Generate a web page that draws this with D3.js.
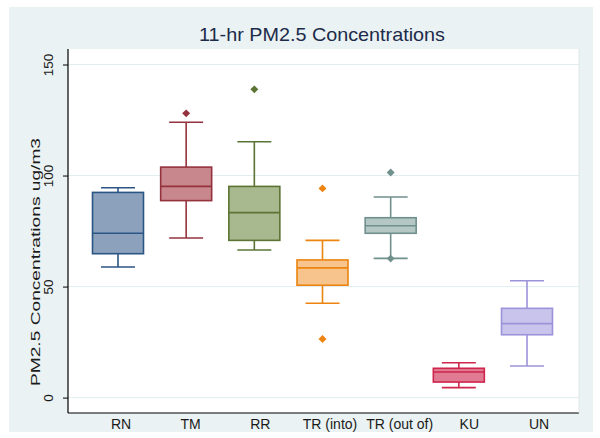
<!DOCTYPE html>
<html>
<head>
<meta charset="utf-8">
<script src="https://cdn.jsdelivr.net/npm/d3@7"></script>
<style>
  html, body { margin: 0; padding: 0; background: #ffffff; }
  svg { display: block; font-family: "Liberation Sans", Arial, sans-serif; }
</style>
</head>
<body>
<svg id="chart" width="600" height="438"></svg>
<script>
// ---- data ----
const categories = ["RN", "TM", "RR", "TR (into)", "TR (out of)", "KU", "UN"];
const whiskerLow  = [58.8, 71.9, 66.5, 42.5, 62.7, 4.5, 14.2];
const q1          = [64.8, 88.7, 70.8, 50.6, 74.0, 7.0, 28.3];
const median      = [74.0, 95.1, 83.3, 58.4, 77.4, 11.5, 33.3];
const q3          = [92.4, 103.8, 95.1, 62.0, 81.0, 13.2, 40.2];
const whiskerHigh = [94.5, 124.0, 115.2, 70.8, 90.3, 15.7, 52.6];
const outliers    = [[], [128.0], [138.8], [94.2, 26.4], [101.4, 62.6], [], []];
const yTicks      = [0, 50, 100, 150];
const fills   = ["#8ca2bc", "#c8868d", "#a9b98f", "#f6c48c", "#b5c7c5", "#e07b93", "#c8c4ec"];
const strokes = ["#2b5584", "#94333e", "#5b7433", "#ec840f", "#6f908d", "#cf264c", "#9c93da"];

const title = "11-hr PM2.5 Concentrations";
const yTitle = "PM2.5 Concentrations ug/m3";

// ---- layout ----
const svg = d3.select("#chart");
const plot = { left: 68, right: 579, top: 49, bottom: 413 };

svg.append("rect").attr("x", 9).attr("y", 7).attr("width", 584).attr("height", 425)
  .attr("fill", "#eaf2f3");
svg.append("rect").attr("x", plot.left).attr("y", plot.top)
  .attr("width", plot.right - plot.left).attr("height", plot.bottom - plot.top)
  .attr("fill", "#ffffff");

const y = d3.scaleLinear().domain([0, 150]).range([397.6, 64.5]);
const x = d3.scalePoint().domain(categories).range([118, 527]);
const xLab = d3.scalePoint().domain(categories).range([121, 539]);
const boxW = 51, capW = 34;

// gridlines
svg.append("g").selectAll("line").data(yTicks).join("line")
  .attr("x1", plot.left).attr("x2", plot.right)
  .attr("y1", d => y(d)).attr("y2", d => y(d))
  .attr("stroke", "#e1eeef").attr("stroke-width", 1);

// y axis
const yAxis = d3.axisLeft(y).tickValues(yTicks).tickSize(5).tickSizeOuter(0).tickPadding(0);
const gy = svg.append("g").attr("transform", `translate(${plot.left},0)`).call(yAxis);
gy.select(".domain").remove();
gy.selectAll(".tick line").attr("stroke", "#000");
gy.selectAll(".tick text")
  .attr("x", 0).attr("y", 0)
  .attr("dx", null).attr("dy", null)
  .attr("text-anchor", "middle")
  .attr("font-size", 13.5).attr("fill", "#1a1a1a")
  .attr("transform", "translate(-15,0) rotate(-90)");
svg.append("line").attr("x1", plot.left).attr("x2", plot.left)
  .attr("y1", plot.top).attr("y2", plot.bottom).attr("stroke", "#000").attr("stroke-width", 1.2);
// x axis line
svg.append("line").attr("x1", plot.left).attr("x2", plot.right)
  .attr("y1", plot.bottom).attr("y2", plot.bottom).attr("stroke", "#000").attr("stroke-width", 1.2);
// right border faint
svg.append("line").attr("x1", plot.right).attr("x2", plot.right)
  .attr("y1", plot.top).attr("y2", plot.bottom).attr("stroke", "#dfe6e8").attr("stroke-width", 1);

// x labels
svg.append("g").selectAll("text").data(categories).join("text")
  .attr("x", d => xLab(d)).attr("y", 429)
  .attr("text-anchor", "middle").attr("font-size", 14).attr("fill", "#1a1a1a")
  .text(d => d);

// title
svg.append("text").attr("x", 322).attr("y", 41).attr("text-anchor", "middle")
  .attr("font-size", 18.5).attr("fill", "#1c2b4a")
  .attr("textLength", 246).attr("lengthAdjust", "spacingAndGlyphs").text(title);
// y title
svg.append("text").attr("transform", "translate(39.5,262) rotate(-90)")
  .attr("text-anchor", "middle").attr("font-size", 13.5).attr("fill", "#1a1a1a")
  .attr("textLength", 248).attr("lengthAdjust", "spacingAndGlyphs").text(yTitle);

// boxes
const g = svg.append("g");
categories.forEach((c, i) => {
  const cx = x(c);
  const gg = g.append("g");
  const sw = 1.6;
  gg.append("line").attr("x1", cx).attr("x2", cx).attr("y1", y(whiskerHigh[i])).attr("y2", y(q3[i]))
    .attr("stroke", strokes[i]).attr("stroke-width", sw);
  gg.append("line").attr("x1", cx).attr("x2", cx).attr("y1", y(q1[i])).attr("y2", y(whiskerLow[i]))
    .attr("stroke", strokes[i]).attr("stroke-width", sw);
  gg.append("line").attr("x1", cx - capW / 2).attr("x2", cx + capW / 2)
    .attr("y1", y(whiskerHigh[i])).attr("y2", y(whiskerHigh[i]))
    .attr("stroke", strokes[i]).attr("stroke-width", sw);
  gg.append("line").attr("x1", cx - capW / 2).attr("x2", cx + capW / 2)
    .attr("y1", y(whiskerLow[i])).attr("y2", y(whiskerLow[i]))
    .attr("stroke", strokes[i]).attr("stroke-width", sw);
  gg.append("rect").attr("x", cx - boxW / 2).attr("y", y(q3[i]))
    .attr("width", boxW).attr("height", y(q1[i]) - y(q3[i]))
    .attr("fill", fills[i]).attr("stroke", strokes[i]).attr("stroke-width", sw);
  gg.append("line").attr("x1", cx - boxW / 2).attr("x2", cx + boxW / 2)
    .attr("y1", y(median[i])).attr("y2", y(median[i]))
    .attr("stroke", strokes[i]).attr("stroke-width", sw);
  gg.selectAll("path.out").data(outliers[i]).join("path")
    .attr("class", "out")
    .attr("transform", d => `translate(${cx},${y(d)})`)
    .attr("d", d3.symbol(d3.symbolDiamond2, 40)())
    .attr("fill", strokes[i]);
});
</script>
</body>
</html>
